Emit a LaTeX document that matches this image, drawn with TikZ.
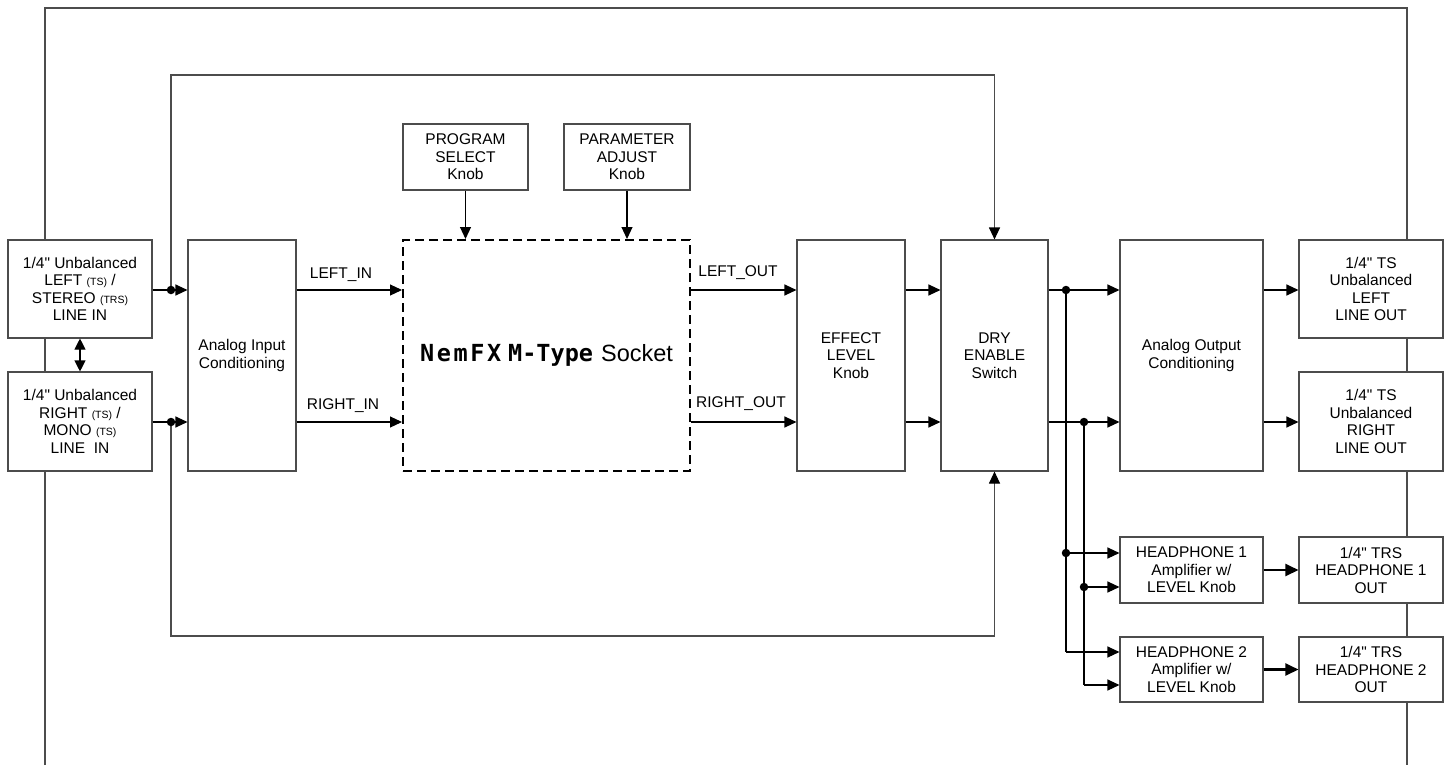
\documentclass[tikz,border=0pt]{standalone}
\usepackage{fontspec}
\setmainfont{Liberation Sans}
\newfontfamily\mtfont{DejaVu Sans Mono}
\usetikzlibrary{arrows.meta}
\newcommand\smtxt[1]{{\fontsize{10.5}{10.5}\selectfont #1}}
\newcommand\qq{\textquotedbl}
\begin{document}
\begin{tikzpicture}[x=1pt,y=-1pt,
  box/.style={draw=black!70,line width=1.1pt,fill=white,inner sep=0pt,align=center,
    font=\fontsize{15.5}{17.5}\selectfont},
  wire/.style={draw=black!70,line width=1.1pt},
  sig/.style={draw=black,line width=1.1pt,-{Triangle[length=12pt,width=11pt,color=black]}},
  wirearrow/.style={draw=black!70,line width=1.1pt,-{Triangle[length=12pt,width=11pt,color=black]}},
  thick arrow/.style={draw=black,line width=2.2pt,-{Triangle[length=13pt,width=12pt]}},
  jdot/.style={circle,fill=black,inner sep=0pt,minimum size=8.5pt},
  lab/.style={inner sep=0pt,font=\fontsize{15.5}{17.5}\selectfont}
]
\useasboundingbox (0,0) rectangle (1447,765);
% outer enclosure line
\coordinate (oBL) at (45,765);
\coordinate (oTL) at (45,8);
\coordinate (oTR) at (1407,8);
\coordinate (oBR) at (1407,765);
\draw[wire] (oBL) -- (oTL) -- (oTR) -- (oBR);

% boxes
\node[box,minimum width=144pt,minimum height=98pt] (inL) at (80,289)
  {1/4\qq{} Unbalanced\\LEFT \smtxt{(TS)} /\\STEREO \smtxt{(TRS)}\\LINE IN};
\node[box,minimum width=144pt,minimum height=99pt] (inR) at (80,421.5)
  {1/4\qq{} Unbalanced\\RIGHT \smtxt{(TS)} /\\MONO \smtxt{(TS)}\\LINE\ \ IN};
\node[box,minimum width=108pt,minimum height=231pt] (aic) at (242,355.5)
  {Analog Input\\Conditioning};
\node[box,draw=black,line width=2pt,dash pattern=on 9pt off 5pt,minimum width=287pt,minimum height=231pt] (nem) at (546.5,355.5)
  {\fontsize{23.5}{26}\selectfont{\mtfont\bfseries N\kern2.6pt e\kern2.6pt m\kern2.6pt F\kern2.6pt X}\kern7pt{\mtfont\bfseries M-Type}\kern8pt Socket};
\node[box,minimum width=125pt,minimum height=66pt] (prog) at (465.5,157)
  {PROGRAM\\SELECT\\Knob};
\node[box,minimum width=126pt,minimum height=66pt] (param) at (627,157)
  {PARAMETER\\ADJUST\\Knob};
\node[box,minimum width=108pt,minimum height=231pt] (eff) at (851,355.5)
  {EFFECT\\LEVEL\\Knob};
\node[box,minimum width=107pt,minimum height=231pt] (dry) at (994.5,355.5)
  {DRY\\ENABLE\\Switch};
\node[box,minimum width=143pt,minimum height=231pt] (aoc) at (1191.5,355.5)
  {Analog Output\\Conditioning};
\node[box,minimum width=144pt,minimum height=98pt] (outL) at (1371,289)
  {1/4\qq{} TS\\Unbalanced\\LEFT\\LINE OUT};
\node[box,minimum width=144pt,minimum height=99pt] (outR) at (1371,421.5)
  {1/4\qq{} TS\\Unbalanced\\RIGHT\\LINE OUT};
\node[box,minimum width=143pt,minimum height=66pt] (hp1) at (1191.5,570)
  {HEADPHONE 1\\Amplifier w/\\LEVEL Knob};
\node[box,minimum width=143pt,minimum height=65pt] (hp2) at (1191.5,669.5)
  {HEADPHONE 2\\Amplifier w/\\LEVEL Knob};
\node[box,minimum width=144pt,minimum height=66pt] (hpo1) at (1371,570)
  {1/4\qq{} TRS\\HEADPHONE 1\\OUT};
\node[box,minimum width=144pt,minimum height=65pt] (hpo2) at (1371,669.5)
  {1/4\qq{} TRS\\HEADPHONE 2\\OUT};

% junction coordinates
\coordinate (jL) at (171,290);
\coordinate (jR) at (171,422);
\coordinate (tl) at (171,75);
\coordinate (tr) at (994.5,75);
\coordinate (bl) at (171,636);
\coordinate (br) at (994.5,636);
\coordinate (jA) at (1066,290);
\coordinate (jB) at (1084,422);
\coordinate (a1) at (1066,553);
\coordinate (b1) at (1084,587);
\coordinate (a2) at (1066,652);
\coordinate (b2) at (1084,685);

% input side
\draw[sig] (inL.east |- jL) -- (aic.west |- jL);
\draw[sig] (inR.east |- jR) -- (aic.west |- jR);
\draw[wirearrow] (jL) -- (tl) -- (tr) -- (dry.north);
\draw[wirearrow] (jR) -- (bl) -- (br) -- (dry.south);
\draw[draw=black,line width=1.1pt,{Triangle[length=11pt,width=11pt]}-{Triangle[length=11pt,width=11pt]}] (inL.south) -- (inR.north);

\draw[sig] (aic.east |- jL) -- (nem.west |- jL);
\draw[sig] (aic.east |- jR) -- (nem.west |- jR);
\draw[sig] (prog.south) -- (prog.south |- nem.north);
\draw[sig] (param.south) -- (param.south |- nem.north);
\draw[sig] (nem.east |- jL) -- (eff.west |- jL);
\draw[sig] (nem.east |- jR) -- (eff.west |- jR);
\draw[sig] (eff.east |- jL) -- (dry.west |- jL);
\draw[sig] (eff.east |- jR) -- (dry.west |- jR);
\draw[sig] (dry.east |- jL) -- (aoc.west |- jL);
\draw[sig] (dry.east |- jR) -- (aoc.west |- jR);
\draw[sig] (aoc.east |- jL) -- (outL.west |- jL);
\draw[sig] (aoc.east |- jR) -- (outR.west |- jR);

% headphone feeds
\draw[draw=black,line width=1.1pt] (jA) -- (a2);
\draw[draw=black,line width=1.1pt] (jB) -- (b2);
\draw[sig] (a1) -- (a1 -| hp1.west);
\draw[sig] (b1) -- (b1 -| hp1.west);
\draw[sig] (a2) -- (a2 -| hp2.west);
\draw[sig] (b2) -- (b2 -| hp2.west);
\draw[thick arrow] (hp1.east) -- (hpo1.west);
\draw[thick arrow] (hp2.east) -- (hpo2.west);

% dots
\node[jdot] (dL) at (jL) {};
\node[jdot] (dR) at (jR) {};
\node[jdot] (dA) at (jA) {};
\node[jdot] (dB) at (jB) {};
\node[jdot] (d1) at (a1) {};
\node[jdot] (d2) at (b1) {};

% labels
\node[lab] (lLin) at (341,275) {LEFT\_IN};
\node[lab] (lRin) at (343,406) {RIGHT\_IN};
\node[lab] (lLout) at (738,273) {LEFT\_OUT};
\node[lab] (lRout) at (741,404) {RIGHT\_OUT};
\end{tikzpicture}
\end{document}
